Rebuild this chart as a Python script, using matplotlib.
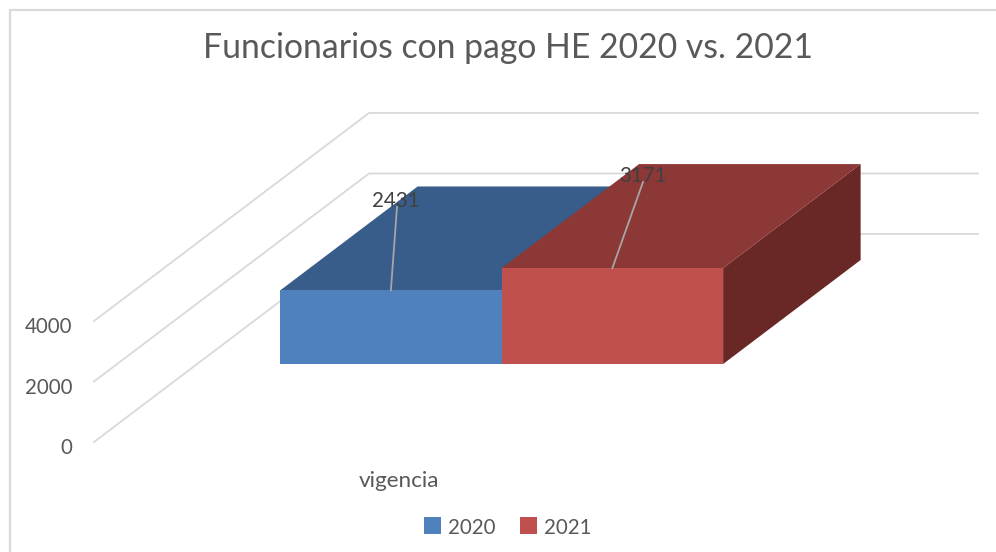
import matplotlib
matplotlib.use("Agg")
import matplotlib.pyplot as plt
from matplotlib.patches import Polygon, Rectangle

plt.rcParams['font.family'] = ['Lato', 'DejaVu Sans']

title = "Funcionarios con pago HE 2020 vs. 2021"
category = "vigencia"
series = ["2020", "2021"]
values = [2431, 3171]
ticks = [0, 2000, 4000]

front_colors = ["#4F81BD", "#C0504D"]
top_colors = ["#385D8A", "#8C3836"]
side_colors = ["#2F4E74", "#692725"]
label_xy = [(396, 207), (643, 182)]
leader_end = [(397, 207), (643, 182)]
legend_x = [424, 520]

# oblique projection, everything ends up in pixels
X0, Y0 = 94, 442
DX, DY = 275, 208
PX_PER_UNIT = (442 - 321) / 4000
FLOOR_W = 609
BAR_W = 221.5
BAR_START = 83
D_FRONT, D_BACK = 0.375, 0.875


def proj(x, v, d):
    return (X0 + x + d * DX, Y0 - d * DY - v * PX_PER_UNIT)


fig = plt.figure(figsize=(9.96, 5.52), dpi=100)
ax = fig.add_axes([0, 0, 1, 1])
ax.set_xlim(0, 996)
ax.set_ylim(552, 0)
ax.axis("off")

# chart border, only top and left show in the crop
ax.plot([10, 10, 996], [552, 9.5, 9.5], color="#D9D9D9", lw=1.6, zorder=1)

for t in ticks:
    pts = [proj(0, t, 0), proj(0, t, 1), proj(FLOOR_W, t, 1)]
    ax.plot([p[0] for p in pts], [p[1] for p in pts], color="#D9D9D9", lw=1.3, zorder=1)
    ax.text(72, proj(0, t, 0)[1] + 12, str(t), ha="right", va="baseline", fontsize=14.8, color="#595959")

for i, v in enumerate(values):
    x0 = BAR_START + i * BAR_W
    x1 = x0 + BAR_W
    top = [proj(x0, v, D_FRONT), proj(x1, v, D_FRONT), proj(x1, v, D_BACK), proj(x0, v, D_BACK)]
    side = [proj(x1, 0, D_FRONT), proj(x1, v, D_FRONT), proj(x1, v, D_BACK), proj(x1, 0, D_BACK)]
    front = [proj(x0, 0, D_FRONT), proj(x1, 0, D_FRONT), proj(x1, v, D_FRONT), proj(x0, v, D_FRONT)]
    ax.add_patch(Polygon(side, color=side_colors[i], lw=0, zorder=2 + i))
    ax.add_patch(Polygon(top, color=top_colors[i], lw=0, zorder=2 + i))
    ax.add_patch(Polygon(front, color=front_colors[i], lw=0, zorder=2 + i))

    # leader line and data label
    bx, by = proj((x0 + x1) / 2, v, D_FRONT)
    ax.plot([bx, leader_end[i][0]], [by, leader_end[i][1]], color="#A6A6A6", lw=1.3, zorder=5)
    ax.text(label_xy[i][0], label_xy[i][1], str(v), ha="center", va="baseline", fontsize=14.8, color="#404040", zorder=6)

ax.text(508, 58, title, ha="center", va="baseline", fontsize=24.3, color="#595959")
ax.text(398.5, 486.7, category, ha="center", va="baseline", fontsize=16.2, color="#595959")

for i, name in enumerate(series):
    ax.add_patch(Rectangle((legend_x[i], 517), 17, 17, color=front_colors[i], lw=0))
    ax.text(legend_x[i] + 24, 534, name, ha="left", va="baseline", fontsize=14.8, color="#595959")

fig.savefig("out.png", dpi=100)
